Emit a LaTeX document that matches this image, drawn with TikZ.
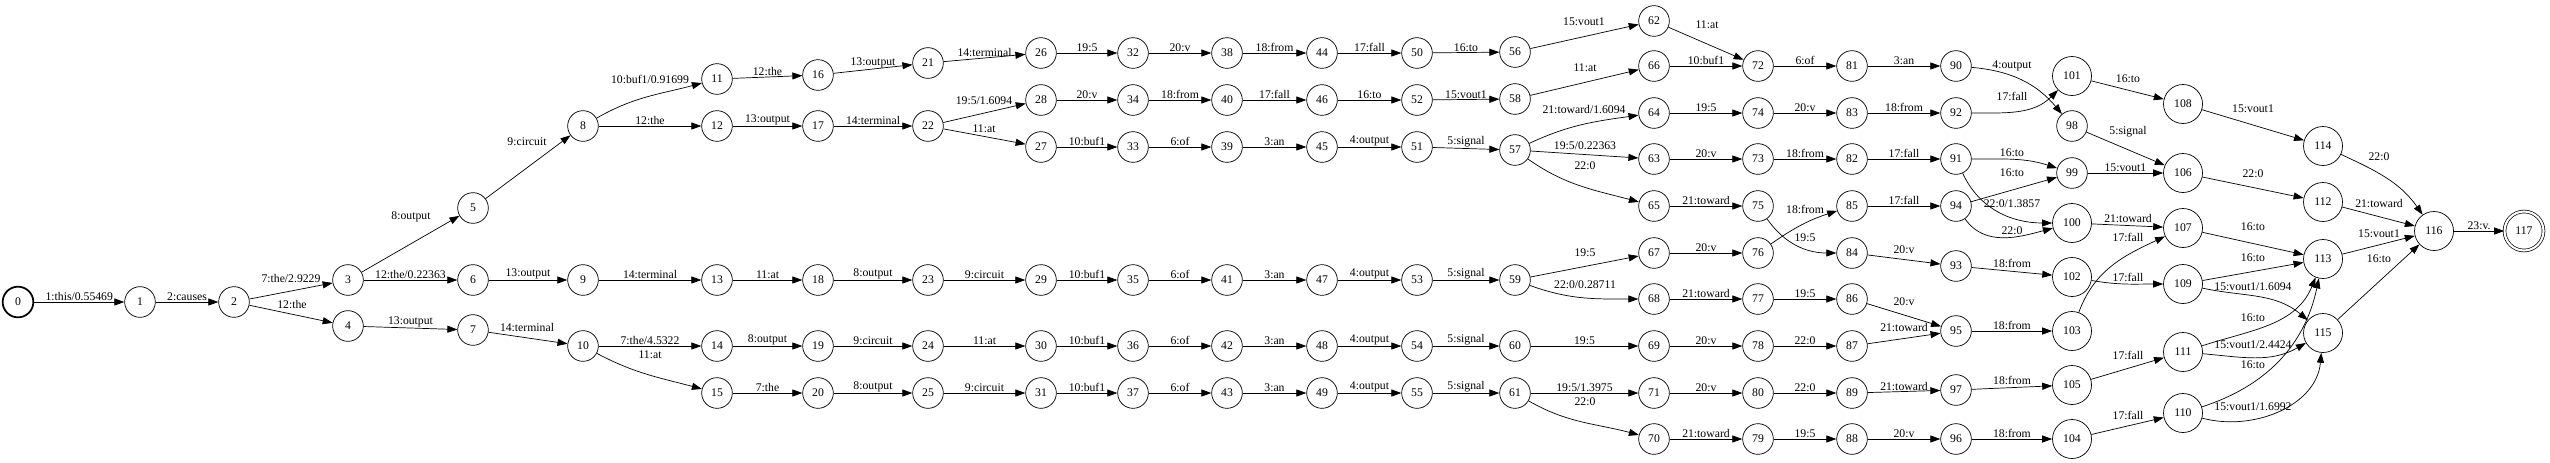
\documentclass[tikz,border=0pt]{standalone}
\usepackage{fontspec}
\setmainfont{Liberation Serif}
\usetikzlibrary{arrows.meta}

\begin{document}
\begin{tikzpicture}[x=0.03cm, y=-0.03cm, line width=0.6pt,
  >={Triangle[length=8.5pt,width=6pt]},
  st/.style={draw, circle, minimum size=0.92cm, inner sep=0pt},
  bigst/.style={draw, circle, minimum size=1.17cm, inner sep=0pt},
  lab/.style={above, inner sep=0.6pt},
  tag/.style={inner sep=0pt}]
\useasboundingbox (0,0) rectangle (2550,462);

% states
\node[st, line width=1.5pt] (s0) at (18,302) {0};
\foreach \n/\x/\y in {1/140/302, 2/234/302, 3/348/280, 4/348/326, 5/473/208, 6/473/280,
  7/473/330, 8/583/126, 9/583/280, 10/583/346, 11/717/79, 12/717/126, 13/717/280,
  14/717/346, 15/717/393, 16/818/75, 17/818/126, 18/818/280, 19/818/346, 20/818/393,
  21/928/63, 22/928/126, 23/928/280, 24/928/346, 25/928/393,
  26/1041/53, 28/1041/100, 27/1041/147, 29/1041/280, 30/1041/346, 31/1041/393,
  32/1133/53, 34/1133/100, 33/1133/147, 35/1133/280, 36/1133/346, 37/1133/393,
  38/1227/53, 40/1227/100, 39/1227/147, 41/1227/280, 42/1227/346, 43/1227/393,
  44/1322/53, 46/1322/100, 45/1322/147, 47/1322/280, 48/1322/346, 49/1322/393,
  50/1417/53, 52/1417/100, 51/1417/147, 53/1417/280, 54/1417/346, 55/1417/393,
  56/1515/52, 58/1515/99, 57/1515/150, 59/1515/280, 60/1515/346, 61/1515/393,
  62/1654/21, 66/1654/66, 64/1654/113, 63/1654/159, 65/1654/206, 67/1654/253,
  68/1654/299, 69/1654/346, 71/1654/393, 70/1654/439,
  72/1758/66, 74/1758/113, 73/1758/159, 75/1758/206, 76/1758/253, 77/1758/299,
  78/1758/346, 80/1758/393, 79/1758/439,
  81/1852/66, 83/1852/113, 82/1852/159, 85/1852/206, 84/1852/253, 86/1852/299,
  87/1852/346, 89/1852/393, 88/1852/439,
  90/1956/66, 92/1956/113, 91/1956/159, 94/1956/206, 93/1956/266, 95/1956/331,
  97/1956/390, 96/1956/439, 98/2072/126, 99/2072/173}
  \node[st] (s\n) at (\x,\y) {\n};
\foreach \n/\x/\y in {101/2072/76, 100/2072/223, 102/2072/277, 103/2072/331,
  105/2072/385, 104/2072/439, 108/2183/104, 106/2183/173, 107/2183/228,
  109/2183/284, 111/2183/352, 110/2183/413, 114/2323/146, 112/2323/202,
  113/2323/259, 115/2323/333, 116/2434/231}
  \node[bigst] (s\n) at (\x,\y) {\n};
\node[bigst, double, double distance=1.8pt] (s117) at (2524,231) {117};

% arcs, label above the middle
\foreach \a/\b/\l in {0/1/{1:this/0.55469}, 1/2/2:causes, 3/6/{12:the/0.22363},
  4/7/13:output, 6/9/13:output, 8/12/12:the, 9/13/14:terminal, 10/14/{7:the/4.5322},
  11/16/12:the, 12/17/13:output, 13/18/11:at, 14/19/8:output, 15/20/7:the,
  16/21/13:output, 17/22/14:terminal, 18/23/8:output, 19/24/9:circuit, 20/25/8:output,
  21/26/14:terminal, 23/29/9:circuit, 24/30/11:at, 25/31/9:circuit,
  26/32/19:5, 28/34/20:v, 27/33/10:buf1, 29/35/10:buf1, 30/36/10:buf1, 31/37/10:buf1,
  32/38/20:v, 34/40/18:from, 33/39/6:of, 35/41/6:of, 36/42/6:of, 37/43/6:of,
  38/44/18:from, 40/46/17:fall, 39/45/3:an, 41/47/3:an, 42/48/3:an, 43/49/3:an,
  44/50/17:fall, 46/52/16:to, 45/51/4:output, 47/53/4:output, 48/54/4:output, 49/55/4:output,
  50/56/16:to, 52/58/15:vout1, 51/57/5:signal, 53/59/5:signal, 54/60/5:signal, 55/61/5:signal,
  60/69/19:5, 61/71/{19:5/1.3975}, 66/72/10:buf1, 64/74/19:5, 63/73/20:v,
  65/75/21:toward, 67/76/20:v, 68/77/21:toward, 69/78/20:v, 71/80/20:v, 70/79/21:toward,
  72/81/6:of, 74/83/20:v, 73/82/18:from, 77/86/19:5, 78/87/22:0, 80/89/22:0, 79/88/19:5,
  81/90/3:an, 83/92/18:from, 82/91/17:fall, 85/94/17:fall, 89/97/21:toward, 88/96/20:v,
  95/103/18:from, 96/104/18:from, 99/106/15:vout1, 116/117/23:v.}
  \draw[->] (s\a) -- node[lab] {\l} (s\b);

% arcs, label placed by hand
\foreach \a/\b/\x/\y/\l in {2/3/291/279/{7:the/2.9229}, 2/4/292/305/12:the,
  3/5/411/217/8:output, 5/8/527/142/9:circuit, 7/10/527/328/14:terminal,
  22/28/984/101/{19:5/1.6094}, 22/27/984/129/11:at, 56/62/1584/22/15:vout1,
  58/66/1585/68/11:at, 57/63/1585/146/{19:5/0.22363}, 59/67/1585/253/19:5,
  62/72/1707/25/11:at, 84/93/1904/250/20:v, 86/95/1904/302/20:v,
  87/95/1904/328/21:toward, 94/99/2012/173/16:to, 93/102/2012/263/18:from,
  97/105/2012/380/18:from, 101/108/2128/79/16:to, 98/106/2128/132/5:signal,
  100/107/2128/219/21:toward, 105/111/2128/355/17:fall, 104/110/2128/415/17:fall,
  108/114/2253/109/15:vout1, 106/112/2253/174/22:0, 107/113/2253/227/16:to,
  109/113/2253/258/16:to, 112/116/2379/204/21:toward, 113/116/2379/234/15:vout1,
  115/116/2379/259/16:to}
  \draw[->] (s\a) -- (s\b) node[tag] at (\x,\y) {\l};

% bent arcs
\draw[->] (s8) to[out=30,in=195] (s11) node[tag] at (650,79) {10:buf1/0.91699};
\draw[->] (s10) to[out=-28,in=165] (s15) node[tag] at (650,355) {11:at};
\draw[->] (s57) to[out=25,in=188] (s64) node[tag] at (1584,110) {21:toward/1.6094};
\draw[->] (s57) to[out=-35,in=165] (s65) node[tag] at (1585,166) {22:0};
\draw[->] (s59) to[out=-20,in=180] (s68) node[tag] at (1585,285) {22:0/0.28711};
\draw[->] (s61) to[out=-30,in=165] (s70) node[tag] at (1585,402) {22:0};
\draw[->] (s75) to[out=-55,in=180] (s84) node[tag] at (1805,238) {19:5};
\draw[->] (s76) to[out=35,in=198] (s85) node[tag] at (1805,209) {18:from};
\draw[->] (s90) to[out=-5,in=130] (s98) node[tag] at (2012,66) {4:output};
\draw[->] (s92) to[out=0,in=225] (s101) node[tag] at (2012,96) {17:fall};
\draw[->] (s91) to[out=0,in=162] (s99) node[tag] at (2012,153) {16:to};
\draw[->] (s91) to[out=-65,in=180] (s100) node[tag] at (2012,204) {22:0/1.3857};
\draw[->] (s94) to[out=-55,in=195] (s100) node[tag] at (2012,231) {22:0};
\draw[->] (s103) to[out=70,in=205] (s107) node[tag] at (2128,237) {17:fall};
\draw[->] (s102) to[out=-10,in=180] (s109) node[tag] at (2128,277) {17:fall};
\draw[->] (s109) to[out=-12,in=140] (s115) node[tag] at (2253,287) {15:vout1/1.6094};
\draw[->] (s111) to[out=18,in=-112] (s113) node[tag] at (2253,318) {16:to};
\draw[->] (s111) to[out=-5,in=210] (s115) node[tag] at (2253,345) {15:vout1/2.4424};
\draw[->] (s110) to[out=18,in=-102] (s113) node[tag] at (2253,365) {16:to};
\draw[->] (s110) to[out=-15,in=-95] (s115) node[tag] at (2253,407) {15:vout1/1.6992};
\draw[->] (s114) to[out=-25,in=125] (s116) node[tag] at (2379,157) {22:0};
\end{tikzpicture}
\end{document}
